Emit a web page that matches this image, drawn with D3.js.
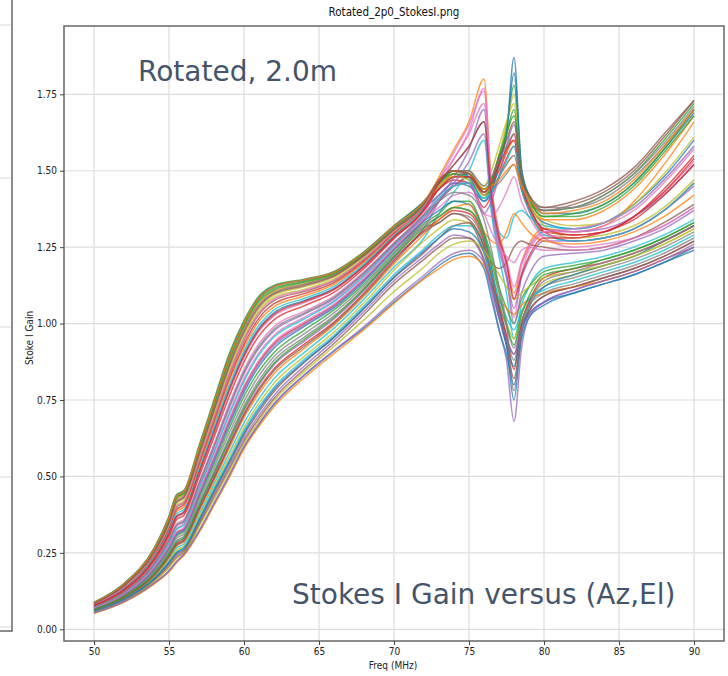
<!DOCTYPE html>
<html><head><meta charset="utf-8">
<script src="https://cdn.jsdelivr.net/npm/d3@7"></script>
<style>html,body{margin:0;padding:0;background:#fff;}svg{display:block;}</style>
</head><body>
<script>
const freqs = [50,52,54,55,55.5,56,57,58,59,60,61,62,64,66,68,70,72,73,74,75,76,76.5,77,77.5,78,78.5,79,80,82,84,86,88,90];
const xTicks = [50,55,60,65,70,75,80,85,90];
const yTicks = [0,0.25,0.5,0.75,1.0,1.25,1.5,1.75];
const titleText = "Rotated_2p0_StokesI.png";
const xLabel = "Freq (MHz)";
const yLabel = "Stoke I Gain";
const note1 = "Rotated, 2.0m";
const note2 = "Stokes I Gain versus (Az,El)";

const s01 = [.078,.130,.230,.315,.370,.385,.515,.650,.785,.900,.985,1.035,1.075,1.115,1.190,1.285,1.375, 1.42,1.46,1.45,1.40,1.44,1.52,1.62,1.87,1.50,1.40, 1.33,1.31,1.33,1.39,1.48,1.60];
const s02 = [.085,.145,.255,.355,.425,.440,.580,.725,.870,.985,1.065,1.105,1.130,1.160,1.225,1.310,1.390, 1.48,1.57,1.66,1.80,1.45,1.30,1.20,1.10,1.20,1.26, 1.31,1.30,1.32,1.40,1.52,1.66];
const s03 = [.088,.150,.265,.370,.440,.455,.600,.750,.900,1.010,1.090,1.125,1.145,1.170,1.235,1.320,1.400, 1.45,1.49,1.48,1.44,1.47,1.55,1.64,1.78,1.50,1.42, 1.37,1.38,1.42,1.49,1.60,1.72];
const s04 = [.070,.115,.200,.270,.315,.330,.445,.560,.680,.790,.875,.935,1.000,1.060,1.145,1.245,1.340, 1.40,1.45,1.48,1.42,1.45,1.50,1.56,1.62,1.46,1.39, 1.30,1.27,1.28,1.31,1.37,1.46];
const s05 = [.058,.095,.160,.210,.240,.255,.345,.440,.530,.625,.700,.765,.860,.945,1.040,1.140,1.220, 1.26,1.29,1.28,1.20,1.10,0.98,0.88,0.68,0.92,1.02, 1.07,1.11,1.14,1.17,1.21,1.26];
const s06 = [.082,.138,.245,.335,.400,.415,.550,.690,.830,.945,1.030,1.075,1.105,1.140,1.210,1.300,1.385, 1.44,1.48,1.49,1.42,1.44,1.48,1.52,1.55,1.44,1.39, 1.37,1.39,1.43,1.50,1.61,1.73];
const s07 = [.074,.122,.215,.295,.345,.360,.480,.605,.735,.850,.935,.990,1.040,1.090,1.170,1.265,1.360, 1.45,1.54,1.63,1.77,1.42,1.27,1.17,1.02,1.16,1.24, 1.29,1.28,1.30,1.35,1.43,1.53];
const s08 = [.066,.108,.185,.250,.290,.305,.410,.515,.625,.730,.815,.880,.955,1.025,1.115,1.220,1.315, 1.33,1.36,1.35,1.26,1.16,1.05,0.96,0.88,1.00,1.07, 1.12,1.15,1.18,1.21,1.25,1.30];
const s09 = [.084,.142,.250,.345,.412,.428,.565,.708,.850,.965,1.048,1.092,1.120,1.152,1.220,1.305,1.390, 1.46,1.50,1.49,1.45,1.50,1.58,1.66,1.72,1.48,1.41, 1.34,1.32,1.33,1.39,1.49,1.61];
const s10 = [.062,.101,.172,.230,.265,.280,.375,.475,.575,.675,.755,.820,.905,.985,1.080,1.185,1.280, 1.36,1.43,1.50,1.60,1.36,1.22,1.10,0.95,1.06,1.12, 1.18,1.20,1.22,1.25,1.29,1.34];
const s11 = [.053,.090,.150,.190,.220,.245,.320,.410,.500,.595,.670,.735,.830,.910,.985,1.070,1.150, 1.19,1.22,1.23,1.18,1.08,0.98,0.90,0.80,0.95,1.02, 1.06,1.10,1.13,1.16,1.20,1.24];
const s12 = [.080,.134,.238,.325,.385,.400,.532,.670,.808,.922,1.008,1.055,1.090,1.128,1.200,1.292,1.380, 1.45,1.49,1.50,1.43,1.46,1.51,1.56,1.60,1.46,1.39, 1.34,1.34,1.37,1.44,1.55,1.68];
const s13 = [.068,.112,.193,.262,.305,.320,.430,.540,.655,.762,.845,.905,.978,1.045,1.130,1.232,1.328, 1.36,1.40,1.40,1.30,1.22,1.12,1.05,1.00,1.08,1.12, 1.17,1.19,1.21,1.24,1.28,1.33];
const s14 = [.081,.136,.242,.330,.392,.408,.540,.680,.818,.932,1.018,1.065,1.098,1.134,1.205,1.296,1.382, 1.44,1.47,1.46,1.38,1.42,1.48,1.54,1.58,1.44,1.37, 1.30,1.29,1.30,1.35,1.43,1.54];
const s15 = [.065,.106,.180,.244,.282,.297,.400,.505,.612,.716,.800,.865,.942,1.015,1.108,1.215,1.312, 1.40,1.48,1.57,1.70,1.40,1.26,1.16,1.05,1.15,1.21, 1.27,1.27,1.28,1.31,1.37,1.45];
const s16 = [.057,.094,.158,.205,.235,.252,.340,.432,.522,.615,.690,.755,.850,.935,1.030,1.130,1.210, 1.25,1.28,1.28,1.21,1.12,1.02,0.95,0.90,0.99,1.04, 1.09,1.12,1.15,1.18,1.22,1.27];
const s17 = [.072,.119,.208,.283,.330,.345,.462,.582,.707,.820,.905,.962,1.020,1.075,1.158,1.256,1.350, 1.41,1.45,1.46,1.36,1.35,1.38,1.43,1.48,1.40,1.35, 1.28,1.25,1.26,1.28,1.32,1.38];
const s18 = [.087,.148,.262,.365,.435,.450,.592,.740,.888,1.000,1.082,1.120,1.142,1.168,1.232,1.318,1.398, 1.46,1.50,1.50,1.43,1.44,1.46,1.49,1.52,1.44,1.40, 1.38,1.38,1.41,1.48,1.58,1.70];
const s19 = [.061,.100,.168,.225,.258,.273,.366,.465,.562,.660,.740,.805,.892,.972,1.068,1.175,1.270, 1.31,1.34,1.33,1.25,1.16,1.06,1.00,0.95,1.03,1.08, 1.13,1.16,1.19,1.22,1.26,1.31];
const s20 = [.079,.132,.234,.320,.378,.392,.522,.660,.796,.910,.995,1.045,1.082,1.122,1.195,1.288,1.378, 1.46,1.52,1.58,1.66,1.42,1.30,1.28,1.35,1.37,1.35, 1.32,1.31,1.33,1.38,1.47,1.58];
const s21 = [.069,.113,.196,.266,.310,.325,.438,.550,.668,.776,.860,.920,.990,1.052,1.138,1.240,1.335, 1.37,1.40,1.39,1.29,1.18,1.05,0.93,0.75,0.97,1.05, 1.12,1.16,1.19,1.22,1.27,1.32];
const s22 = [.052,.089,.148,.188,.218,.242,.316,.405,.495,.590,.664,.728,.822,.902,.980,1.066,1.146, 1.18,1.21,1.22,1.19,1.13,1.08,1.05,1.03,1.06,1.08, 1.10,1.12,1.14,1.17,1.21,1.25];
const s23 = [.086,.146,.258,.360,.430,.445,.586,.732,.878,.992,1.072,1.110,1.135,1.163,1.228,1.313,1.392, 1.46,1.49,1.47,1.41,1.45,1.53,1.62,1.68,1.49,1.41, 1.35,1.35,1.38,1.45,1.56,1.68];
const s24 = [.064,.105,.177,.240,.278,.292,.394,.496,.602,.705,.788,.852,.932,1.005,1.100,1.208,1.305, 1.34,1.37,1.36,1.27,1.17,1.06,0.96,0.85,1.00,1.07, 1.15,1.18,1.20,1.23,1.27,1.32];
const s25 = [.073,.120,.212,.290,.338,.352,.472,.594,.722,.836,.920,.976,1.030,1.082,1.164,1.260,1.355, 1.42,1.46,1.46,1.36,1.40,1.48,1.58,1.65,1.47,1.39, 1.31,1.30,1.31,1.35,1.42,1.52];
const s26 = [.059,.097,.163,.215,.246,.260,.352,.448,.540,.636,.712,.778,.872,.955,1.050,1.150,1.232, 1.28,1.32,1.33,1.24,1.20,1.18,1.20,1.25,1.27,1.26, 1.25,1.24,1.25,1.28,1.33,1.39];
const s27 = [.077,.128,.226,.310,.364,.380,.508,.640,.775,.890,.975,1.025,1.068,1.110,1.185,1.280,1.372, 1.47,1.56,1.65,1.76,1.44,1.28,1.19,1.08,1.19,1.25, 1.30,1.30,1.32,1.37,1.46,1.57];
const s28 = [.067,.110,.190,.256,.298,.312,.420,.528,.640,.745,.830,.892,.966,1.035,1.122,1.226,1.322, 1.35,1.38,1.37,1.28,1.18,1.07,0.99,0.92,1.01,1.06, 1.10,1.13,1.16,1.19,1.23,1.28];
const s29 = [.083,.140,.248,.340,.405,.420,.556,.698,.840,.955,1.040,1.085,1.112,1.146,1.215,1.302,1.388, 1.45,1.48,1.47,1.42,1.46,1.55,1.65,1.75,1.49,1.40, 1.32,1.28,1.29,1.32,1.38,1.47];
const s30 = [.060,.099,.166,.220,.252,.268,.360,.458,.552,.650,.728,.792,.882,.962,1.058,1.160,1.245, 1.29,1.32,1.32,1.25,1.17,1.08,1.02,0.98,1.04,1.08, 1.11,1.14,1.17,1.20,1.24,1.29];
const s31 = [.088,.149,.263,.368,.438,.452,.596,.745,.894,1.005,1.086,1.122,1.143,1.169,1.234,1.320,1.400, 1.46,1.50,1.48,1.40,1.43,1.52,1.62,1.82,1.51,1.42, 1.36,1.36,1.39,1.46,1.57,1.69];
const s32 = [.063,.103,.174,.235,.272,.287,.386,.486,.590,.692,.772,.836,.918,.995,1.090,1.196,1.292, 1.34,1.38,1.39,1.30,1.27,1.26,1.30,1.36,1.33,1.30, 1.27,1.26,1.27,1.30,1.35,1.42];
const s33 = [.086,.147,.260,.362,.432,.447,.590,.738,.884,.998,1.078,1.115,1.138,1.165,1.230,1.315,1.395, 1.46,1.50,1.49,1.44,1.47,1.55,1.62,1.70,1.48,1.41, 1.35,1.36,1.39,1.46,1.57,1.70];
const s34 = [.076,.126,.222,.305,.358,.373,.498,.628,.760,.875,.960,1.012,1.058,1.102,1.180,1.278,1.370, 1.44,1.48,1.48,1.43,1.46,1.52,1.57,1.60,1.45,1.38, 1.31,1.29,1.30,1.35,1.44,1.55];
const s35 = [.069,.114,.198,.268,.312,.327,.441,.555,.674,.783,.868,.928,.995,1.056,1.142,1.243,1.338, 1.40,1.46,1.53,1.62,1.38,1.24,1.15,1.00,1.10,1.16, 1.22,1.23,1.24,1.27,1.31,1.37];
const s36 = [.064,.104,.176,.238,.275,.290,.390,.492,.598,.700,.782,.846,.925,1.000,1.095,1.202,1.300, 1.33,1.36,1.34,1.25,1.15,1.03,0.93,0.82,0.97,1.04, 1.09,1.12,1.15,1.18,1.22,1.27];
const s37 = [.082,.139,.246,.338,.402,.417,.553,.694,.835,.950,1.035,1.080,1.108,1.142,1.212,1.301,1.386, 1.47,1.54,1.62,1.72,1.44,1.29,1.21,1.12,1.20,1.25, 1.30,1.31,1.33,1.38,1.47,1.58];
const s38 = [.085,.144,.254,.352,.420,.436,.575,.720,.864,.980,1.060,1.100,1.128,1.158,1.224,1.310,1.392, 1.47,1.50,1.50,1.45,1.48,1.54,1.58,1.62,1.47,1.41, 1.37,1.38,1.42,1.49,1.59,1.71];
const s39 = [.056,.093,.156,.202,.232,.250,.335,.425,.515,.608,.682,.748,.842,.925,1.012,1.105,1.185, 1.23,1.26,1.27,1.24,1.20,1.16,1.12,1.08,1.10,1.12, 1.15,1.17,1.19,1.22,1.26,1.31];
const s40 = [.072,.118,.206,.280,.326,.341,.458,.578,.700,.812,.898,.956,1.015,1.072,1.155,1.254,1.348, 1.41,1.45,1.46,1.41,1.43,1.48,1.53,1.58,1.44,1.37, 1.29,1.27,1.28,1.31,1.37,1.46];
const s41 = [.060,.098,.165,.218,.250,.265,.356,.453,.546,.642,.720,.785,.875,.955,1.050,1.152,1.238, 1.28,1.31,1.30,1.23,1.13,1.02,0.93,0.86,0.98,1.03, 1.07,1.10,1.13,1.16,1.20,1.25];
const s42 = [.087,.148,.262,.366,.436,.451,.594,.742,.890,1.002,1.084,1.121,1.143,1.168,1.233,1.319,1.399, 1.47,1.50,1.49,1.44,1.45,1.47,1.50,1.52,1.45,1.41, 1.36,1.37,1.40,1.47,1.58,1.70];
const s43 = [.065,.107,.182,.246,.285,.300,.404,.510,.618,.722,.806,.870,.948,1.020,1.112,1.218,1.313, 1.35,1.38,1.37,1.29,1.20,1.10,1.00,0.93,1.03,1.09, 1.16,1.18,1.21,1.24,1.28,1.33];
const s44 = [.078,.130,.229,.314,.368,.383,.512,.646,.780,.895,.980,1.030,1.072,1.112,1.188,1.283,1.374, 1.46,1.52,1.58,1.66,1.42,1.28,1.20,1.08,1.16,1.22, 1.28,1.28,1.30,1.34,1.42,1.52];
const s45 = [.054,.091,.151,.192,.222,.246,.322,.412,.503,.598,.673,.738,.832,.912,.990,1.078,1.158, 1.20,1.23,1.24,1.20,1.12,1.02,0.95,0.90,0.98,1.03, 1.07,1.11,1.14,1.17,1.21,1.25];
const s46 = [.084,.143,.252,.348,.416,.432,.570,.715,.858,.972,1.055,1.097,1.124,1.155,1.222,1.307,1.391, 1.47,1.50,1.49,1.43,1.46,1.54,1.60,1.66,1.48,1.42, 1.38,1.40,1.44,1.51,1.62,1.73];
const s47 = [.070,.116,.202,.273,.318,.333,.448,.565,.686,.796,.880,.940,1.005,1.064,1.148,1.248,1.342, 1.38,1.42,1.43,1.36,1.30,1.25,1.22,1.20,1.24,1.25, 1.24,1.24,1.25,1.28,1.32,1.38];
const s48 = [.073,.121,.213,.292,.340,.355,.476,.600,.728,.842,.926,.982,1.034,1.086,1.166,1.262,1.357, 1.40,1.43,1.42,1.34,1.24,1.12,1.00,0.78,0.98,1.06, 1.14,1.17,1.20,1.23,1.27,1.32];

const seriesList = [s01,s02,s03,s04,s05,s06,s07,s08,s09,s10,s11,s12,s13,s14,s15,s16,s17,s18,s19,s20,s21,s22,s23,s24,
  s25,s26,s27,s28,s29,s30,s31,s32,s33,s34,s35,s36,s37,s38,s39,s40,s41,s42,s43,s44,s45,s46,s47,s48];
const palette = ["#1f77b4","#ff7f0e","#2ca02c","#d62728","#9467bd","#8c564b","#e377c2","#7f7f7f","#bcbd22","#17becf"];

const W = 728, H = 676;
const svg = d3.select("body").append("svg").attr("width", W).attr("height", H);
svg.append("rect").attr("width", W).attr("height", H).attr("fill", "#fff");

// fragment of neighbouring panel at left edge
const leftFrag = svg.append("g");
[25, 178, 327, 477, 627].forEach(yy => leftFrag.append("line").attr("x1", 0).attr("x2", 11).attr("y1", yy).attr("y2", yy).attr("stroke", "#e0e0e0").attr("stroke-width", 1.2));
leftFrag.append("line").attr("x1", 12).attr("x2", 12).attr("y1", 0).attr("y2", 631).attr("stroke", "#666").attr("stroke-width", 1.5);
leftFrag.append("line").attr("x1", 0).attr("x2", 12.7).attr("y1", 631).attr("y2", 631).attr("stroke", "#666").attr("stroke-width", 1.5);

const plot = {left: 64, top: 26, right: 724, bottom: 641};
const x = d3.scaleLinear().domain([48, 92]).range([plot.left, plot.right]);
const y = d3.scaleLinear().domain([0, 1.75]).range([629.3, 94.3]);

const grid = svg.append("g");
xTicks.forEach(t => grid.append("line").attr("x1", x(t)).attr("x2", x(t)).attr("y1", plot.top).attr("y2", plot.bottom).attr("stroke", "#dcdcdc").attr("stroke-width", 1.2));
yTicks.forEach(t => grid.append("line").attr("x1", plot.left).attr("x2", plot.right).attr("y1", y(t)).attr("y2", y(t)).attr("stroke", "#dcdcdc").attr("stroke-width", 1.2));

svg.append("clipPath").attr("id", "pc").append("rect")
  .attr("x", plot.left).attr("y", plot.top).attr("width", plot.right - plot.left).attr("height", plot.bottom - plot.top);

const line = d3.line().x((d, i) => x(freqs[i])).y(d => y(d)).curve(d3.curveMonotoneX);
const lines = svg.append("g").attr("clip-path", "url(#pc)");
seriesList.forEach((s, i) => {
  lines.append("path").attr("d", line(s)).attr("fill", "none")
    .attr("stroke", palette[i % 10]).attr("stroke-width", 1.5).attr("stroke-opacity", 0.75)
    .attr("stroke-linejoin", "round");
});

svg.append("rect").attr("x", plot.left).attr("y", plot.top).attr("width", plot.right - plot.left).attr("height", plot.bottom - plot.top)
  .attr("fill", "none").attr("stroke", "#666").attr("stroke-width", 1.5);

const font = "'DejaVu Sans Condensed','DejaVu Sans',sans-serif";
const xAxis = d3.axisBottom(x).tickValues(xTicks).tickSize(4).tickFormat(d3.format("d"));
const gx = svg.append("g").attr("transform", `translate(0,${plot.bottom})`).call(xAxis);
const yAxis = d3.axisLeft(y).tickValues(yTicks).tickSize(4).tickFormat(d3.format(".2f"));
const gy = svg.append("g").attr("transform", `translate(${plot.left},0)`).call(yAxis);
[gx, gy].forEach(g => {
  g.select(".domain").remove();
  g.selectAll(".tick line").attr("stroke", "#444");
  g.selectAll(".tick text").attr("fill", "#222").style("font-family", font).style("font-size", "10px");
});

svg.append("text").attr("x", 394).attr("y", 16).attr("text-anchor", "middle")
  .style("font-family", font).style("font-size", "11.5px").attr("fill", "#111").text(titleText);
svg.append("text").attr("x", 393).attr("y", 669).attr("text-anchor", "middle")
  .style("font-family", font).style("font-size", "10px").attr("fill", "#222").text(xLabel);
svg.append("text").attr("transform", "translate(33,338) rotate(-90)").attr("text-anchor", "middle")
  .style("font-family", font).style("font-size", "10px").attr("fill", "#222").text(yLabel);

const noteFont = "'DejaVu Sans',sans-serif";
svg.append("text").attr("x", 138).attr("y", 81).style("font-family", noteFont).style("font-size", "28px")
  .attr("fill", "#44546a").text(note1);
svg.append("text").attr("x", 292).attr("y", 604).style("font-family", noteFont).style("font-size", "28px")
  .attr("fill", "#44546a").text(note2);
</script>
</body></html>
